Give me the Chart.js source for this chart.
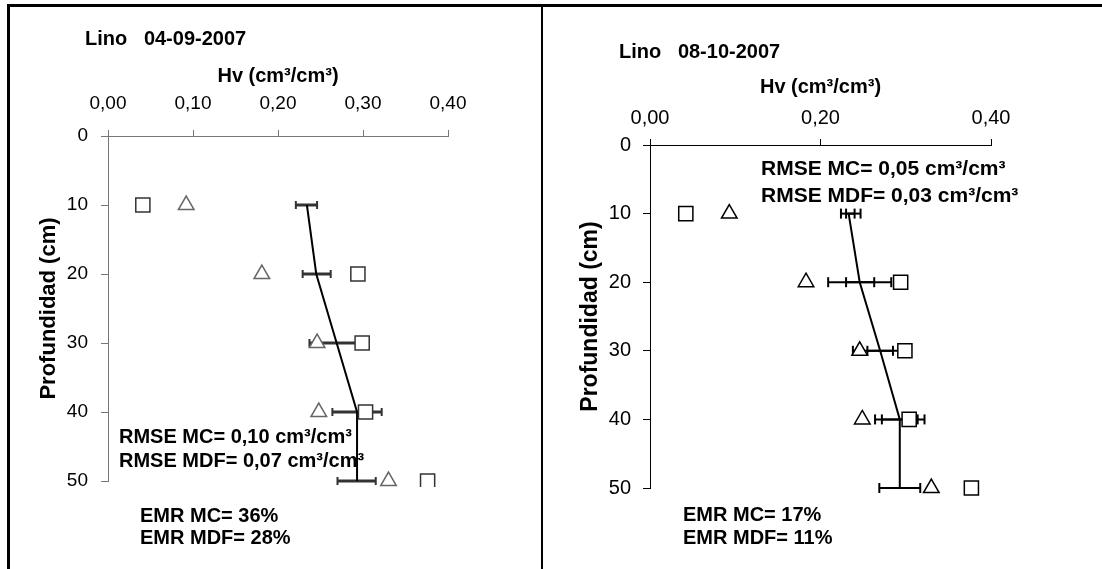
<!DOCTYPE html>
<html>
<head>
<title>Lino - Hv</title>
<script src="https://cdn.jsdelivr.net/npm/chart.js"></script>
<style>
  body { margin: 0; background: #fff; }
  #page { position: relative; width: 1102px; height: 569px; overflow: hidden; font-family: 'Liberation Sans', Arial, sans-serif; }
  canvas { position: absolute; top: 0; }
  .note { position: absolute; font-weight: bold; white-space: pre; color: #000; line-height: 1.2; }
  .rule { position: absolute; background: #000; }
</style>
</head>
<body>
<div id="page">
  <canvas id="chartA" width="541" height="569" style="left:0"></canvas>
  <canvas id="chartB" width="561" height="569" style="left:541px"></canvas>

  <div class="rule" style="left:7px;top:4px;width:1095px;height:3px"></div>
  <div class="rule" style="left:7px;top:4px;width:3px;height:565px"></div>
  <div class="rule" style="left:541px;top:4px;width:2px;height:565px"></div>

  <div class="note" style="left:85px;top:26px;font-size:20px">Lino   04-09-2007</div>
  <div class="note" style="left:119px;top:424px;font-size:20px">RMSE MC= 0,10 cm³/cm³</div>
  <div class="note" style="left:119px;top:448px;font-size:20px">RMSE MDF= 0,07 cm³/cm³</div>
  <div class="note" style="left:140px;top:503px;font-size:20px">EMR MC= 36%</div>
  <div class="note" style="left:140px;top:525px;font-size:20px">EMR MDF= 28%</div>

  <div class="note" style="left:619px;top:39px;font-size:20px">Lino   08-10-2007</div>
  <div class="note" style="left:761px;top:155px;font-size:21px">RMSE MC= 0,05 cm³/cm³</div>
  <div class="note" style="left:761px;top:182px;font-size:21px">RMSE MDF= 0,03 cm³/cm³</div>
  <div class="note" style="left:683px;top:502px;font-size:20px">EMR MC= 17%</div>
  <div class="note" style="left:683px;top:525px;font-size:20px">EMR MDF= 11%</div>
</div>
<script>
// depths (cm) and tick values
const depths = [10, 20, 30, 40, 50];
const depthTicks = [0, 10, 20, 30, 40, 50];
const hvTicksA = [0, 0.1, 0.2, 0.3, 0.4];
const hvTicksB = [0, 0.2, 0.4];

// 04-09-2007
const squaresA   = [0.041, 0.294, 0.299, 0.303, 0.376];
const trianglesA = [0.092, 0.181, 0.246, 0.248, 0.330];
const meanA      = [0.234, 0.245, 0.269, 0.293, 0.293];
const errLowA    = [0.221, 0.229, 0.237, 0.264, 0.270];
const errHighA   = [0.246, 0.262, 0.301, 0.322, 0.315];

// 08-10-2007
const squaresB   = [0.042, 0.294, 0.299, 0.304, 0.377];
const trianglesB = [0.093, 0.183, 0.246, 0.249, 0.330];
const meanB      = [0.233, 0.246, 0.270, 0.293, 0.293];
const errLowB    = [0.224, 0.209, 0.238, 0.264, 0.269];
const errHighB   = [0.247, 0.283, 0.302, 0.322, 0.317];
const errLowB2   = [0.230, 0.230, 0.255, 0.272, null];
const errHighB2  = [0.240, 0.263, 0.285, 0.314, null];

Chart.defaults.font.family = "'Liberation Sans', Arial, sans-serif";

function points(xs) {
  return depths.map((d, i) => ({ x: xs[i], y: d }));
}

function errorBars(lo, hi, color, width, cap) {
  return depths.map((d, i) => lo[i] == null ? null : {
    data: [{ x: lo[i], y: d }, { x: hi[i], y: d }],
    showLine: true,
    borderColor: color,
    borderWidth: width,
    pointStyle: 'line',
    pointRotation: 90,
    pointRadius: cap,
    pointBorderColor: color,
    pointBorderWidth: 2,
    clip: false,
    order: 3
  }).filter(Boolean);
}

function markers(sq, tri, sqColor, triColor, clip) {
  return [{
    data: points(sq),
    pointStyle: 'rect',
    pointRadius: 10,
    pointBackgroundColor: '#fff',
    pointBorderColor: sqColor,
    pointBorderWidth: 1.5,
    clip: clip,
    order: 1
  }, {
    data: points(tri),
    pointStyle: 'triangle',
    pointRadius: 9,
    pointBackgroundColor: '#fff',
    pointBorderColor: triColor,
    pointBorderWidth: 1.5,
    clip: clip,
    order: 1
  }];
}

function meanLine(mean) {
  return {
    data: points(mean),
    showLine: true,
    borderColor: '#000',
    borderWidth: 2,
    pointRadius: 0,
    clip: false,
    order: 2
  };
}

function axes(hvTicks, o) {
  return {
    x: {
      type: 'linear', position: 'top', min: 0, max: 0.4,
      afterBuildTicks: s => { s.ticks = hvTicks.map(v => ({ value: v })); },
      afterFit: s => { s.height = o.top; },
      ticks: {
        callback: v => v.toFixed(2).replace('.', ','),
        font: { size: o.tick }, color: '#000', padding: o.xPad, maxRotation: 0, autoSkip: false
      },
      grid: { drawOnChartArea: false, drawTicks: true, tickLength: 6, color: o.axis },
      border: { color: o.axis, width: 1 },
      title: {
        display: true, text: 'Hv (cm³/cm³)', color: '#000',
        font: { size: 20, weight: 'bold' }, padding: { top: o.xTitle, bottom: 0 }
      }
    },
    y: {
      type: 'linear', reverse: true, min: 0, max: 50,
      afterBuildTicks: s => { s.ticks = depthTicks.map(v => ({ value: v })); },
      afterFit: s => { s.width = o.left; },
      ticks: { font: { size: o.tick }, color: '#000', padding: o.yPad, autoSkip: false },
      grid: { drawOnChartArea: false, drawTicks: true, tickLength: 7, color: o.axis },
      border: { color: o.axis, width: 1 },
      title: {
        display: true, text: 'Profundidad (cm)', color: '#000',
        font: { size: o.yTitleSize, weight: 'bold' }, padding: { top: 36, bottom: 0 }
      }
    }
  };
}

const common = {
  responsive: false,
  animation: false,
  devicePixelRatio: 1,
  plugins: { legend: { display: false }, tooltip: { enabled: false } }
};

new Chart(document.getElementById('chartA'), {
  type: 'scatter',
  data: {
    datasets: [
      ...markers(squaresA, trianglesA, '#333', '#666', { left: 20, top: 20, right: 20, bottom: 6 }),
      meanLine(meanA),
      ...errorBars(errLowA, errHighA, '#333', 3, 4)
    ]
  },
  options: {
    ...common,
    layout: { padding: { left: 0, top: 0, right: 93, bottom: 88 } },
    scales: axes(hvTicksA, { top: 136, left: 108, tick: 19, xPad: 15, yPad: 13, xTitle: 64, yTitleSize: 22, axis: '#777' })
  }
});

new Chart(document.getElementById('chartB'), {
  type: 'scatter',
  data: {
    datasets: [
      ...markers(squaresB, trianglesB, '#000', '#000', false),
      meanLine(meanB),
      ...errorBars(errLowB, errHighB, '#000', 2, 5),
      ...errorBars(errLowB2, errHighB2, '#000', 2, 5)
    ]
  },
  options: {
    ...common,
    layout: { padding: { left: 0, top: 0, right: 111, bottom: 81 } },
    scales: axes(hvTicksB, { top: 145, left: 109, tick: 20, xPad: 9, yPad: 12, xTitle: 75, yTitleSize: 23, axis: '#000' })
  }
});
</script>
</body>
</html>
